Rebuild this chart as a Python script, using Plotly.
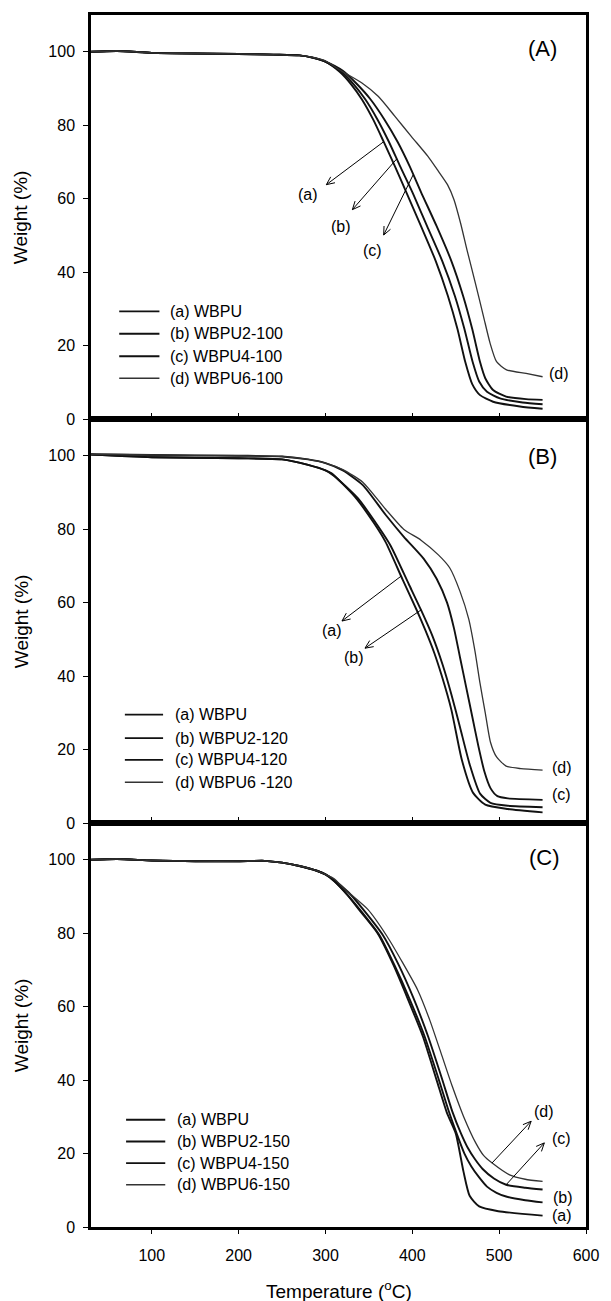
import math
import plotly.graph_objects as go
from plotly.subplots import make_subplots

# ---------------- data (Temperature in degC, Weight in %) ----------------
# Panel A
A_a_T = [30, 60, 100, 150, 200, 240, 270, 285, 300, 316, 330, 342, 355, 367, 380, 393, 410, 427, 441, 452, 461, 469, 478, 493, 524, 550]
A_a_W = [100, 100.2, 99.7, 99.5, 99.4, 99.2, 99.0, 98.4, 97.3, 94.6, 91.0, 87.0, 81.5, 75.5, 68.8, 61.8, 52.5, 43.0, 33.5, 24.5, 15.5, 9.5, 6.5, 4.7, 3.4, 2.8]
A_b_T = [30, 60, 100, 150, 200, 240, 270, 285, 300, 318, 333, 346, 360, 373, 386, 400, 417, 434.5, 449, 460, 469.5, 477, 486, 501, 527, 550]
A_b_W = [100, 100.2, 99.7, 99.5, 99.4, 99.2, 99.0, 98.4, 97.3, 94.6, 91.0, 87.0, 81.5, 75.5, 68.8, 61.8, 52.5, 43.0, 33.5, 24.5, 15.5, 10.2, 7.4, 5.6, 4.5, 4.0]
A_c_T = [30, 60, 100, 150, 200, 240, 270, 285, 300, 320, 337, 352, 368, 383, 397, 410, 428, 445, 458.5, 469, 478, 484, 493, 508, 531, 550]
A_c_W = [100, 100.2, 99.7, 99.5, 99.4, 99.2, 99.0, 98.4, 97.3, 94.8, 91.0, 87.0, 81.5, 75.5, 68.8, 61.8, 52.5, 43.0, 33.5, 24.5, 15.5, 11.1, 7.9, 6.1, 5.4, 5.2]
A_d_T = [30, 60, 100, 150, 200, 240, 270, 285, 300, 316, 342, 361, 380, 399, 418, 429, 440.5, 448, 455.6, 463, 472.6, 482, 489.6, 497, 508.5, 531, 550]
A_d_W = [100, 100.2, 99.7, 99.5, 99.4, 99.2, 99.0, 98.5, 97.5, 95.1, 91.5, 87.8, 82.4, 76.9, 71.5, 67.8, 63.8, 59.7, 53.3, 46.0, 37.0, 27.9, 20.6, 15.6, 13.4, 12.4, 11.5]

# Panel B
B_a_T = [30, 100, 200, 250, 280, 300, 307, 334, 356, 369, 389, 405, 415, 425, 434, 445, 457, 470, 484, 510, 550]
B_a_W = [100.3, 99.6, 99.3, 99.0, 97.5, 96.0, 95.2, 88.8, 81.6, 76.6, 66.2, 58.0, 52.5, 46.5, 40.0, 30.8, 17.2, 8.2, 5.0, 3.8, 2.9]
B_b_T = [30, 100, 200, 250, 280, 300, 310, 337, 360, 375, 396, 410, 423, 435, 445, 455, 466, 478, 490, 510, 550]
B_b_W = [100.3, 99.6, 99.3, 99.0, 97.5, 96.0, 94.5, 88.5, 81.0, 75.5, 65.0, 58.0, 51.0, 43.0, 35.0, 26.0, 16.0, 8.0, 5.5, 4.7, 4.3]
B_c_T = [30, 100, 200, 250, 280, 300, 320, 343, 369, 390, 413, 428, 440, 448, 455, 462, 469, 476, 483, 490, 498, 510, 550]
B_c_W = [100.4, 100.2, 100.0, 99.8, 99.0, 98.0, 96.0, 92.0, 84.0, 78.0, 72.0, 66.5, 60.0, 53.0, 45.0, 37.0, 29.0, 21.0, 14.0, 9.5, 7.3, 6.7, 6.3]
B_d_T = [30, 100, 200, 250, 280, 300, 320, 343, 369, 390, 410, 430, 443, 455, 465, 472, 478, 484, 490, 497, 508, 525, 550]
B_d_W = [100.4, 100.2, 100.0, 99.8, 99.0, 98.0, 96.2, 92.8, 85.5, 80.0, 77.0, 73.0, 69.5, 63.0, 55.5, 47.0, 38.0, 30.0, 22.0, 18.0, 15.5, 14.8, 14.4]

# Panel C
C_a_T = [30, 60, 100, 150, 200, 230, 250, 270, 290, 300, 310, 325, 340, 360, 378, 395, 412, 428, 440, 450, 459, 466, 477, 499, 550]
C_a_W = [100.0, 100.2, 99.8, 99.6, 99.6, 99.7, 99.2, 98.3, 97.0, 96.0, 94.2, 90.5, 86.0, 80.0, 71.5, 62.0, 52.0, 40.0, 31.0, 25.5, 15.0, 8.5, 5.6, 4.3, 3.1]
C_b_T = [30, 60, 100, 150, 200, 230, 250, 270, 290, 300, 310, 325, 341, 362, 380, 397, 414, 430, 442, 451, 460, 468, 477, 486, 497, 508, 530, 550]
C_b_W = [100.0, 100.2, 99.8, 99.6, 99.6, 99.7, 99.2, 98.3, 97.0, 96.0, 94.2, 90.5, 86.0, 79.5, 71.0, 62.0, 52.0, 40.5, 31.5, 25.5, 20.0, 16.5, 13.5, 11.0, 9.3, 8.3, 7.3, 6.7]
C_c_T = [30, 60, 100, 150, 200, 230, 250, 270, 290, 300, 310, 327, 345, 366, 384, 401, 418, 434, 446, 456, 464, 472, 481, 494, 508, 530, 550]
C_c_W = [100.0, 100.2, 99.8, 99.6, 99.6, 99.7, 99.2, 98.3, 97.0, 96.0, 94.5, 91.0, 86.0, 79.5, 71.5, 62.5, 52.0, 40.5, 31.5, 25.5, 21.5, 18.5, 15.8, 13.2, 11.5, 10.7, 10.2]
C_d_T = [30, 60, 100, 150, 200, 230, 250, 270, 290, 300, 310, 322, 349, 371, 389, 406, 420, 433, 446, 459, 473, 482, 492, 512, 530, 550]
C_d_W = [100.0, 100.2, 99.8, 99.6, 99.6, 99.7, 99.2, 98.3, 97.0, 96.0, 94.8, 92.0, 86.4, 79.1, 71.9, 64.6, 56.4, 47.4, 38.3, 30.1, 22.9, 19.5, 17.4, 14.2, 13.0, 12.4]

# legend texts
A_names = ["(a) WBPU", "(b) WBPU2-100", "(c) WBPU4-100", "(d) WBPU6-100"]
B_names = ["(a) WBPU", "(b) WBPU2-120", "(c) WBPU4-120", "(d) WBPU6 -120"]
C_names = ["(a) WBPU", "(b) WBPU2-150", "(c) WBPU4-150", "(d) WBPU6-150"]
panel_tags = ["(A)", "(B)", "(C)"]

# arrow annotations: (label, tail T, tail W, head T, head W)
A_arrows = [("(a)", 367, 75.5, 301, 63.8), ("(b)", 382, 70.8, 331, 57.0), ("(c)", 401, 66.5, 367, 50.1)]
A_arrow_labels = [("(a)", 280, 61.0), ("(b)", 318, 52.4), ("(c)", 354, 46.0), ("(d)", 569, 12.4)]
B_arrows = [("(a)", 387, 67.2, 319, 55.0), ("(b)", 410, 58.0, 345.5, 47.6)]
B_arrow_labels = [("(a)", 307, 52.5), ("(b)", 333, 45.0), ("(d)", 572, 15.0), ("(c)", 572, 7.7)]
C_arrows = [("(d)", 491.7, 17.4, 536.8, 28.8), ("(c)", 508, 11.5, 552, 22.9)]
C_arrow_labels = [("(d)", 552, 31.5), ("(c)", 572, 24.2), ("(b)", 574, 7.9), ("(a)", 572, 3.1)]

# ---------------- figure ----------------
FONT = "Liberation Sans, Arial, sans-serif"
W_PX, H_PX = 611, 1301
M_L, M_R, M_T, M_B = 91, 17, 15, 74
X_RANGE = [30, 600]
Y_RANGE = [0, 110]
SX = (W_PX - M_L - M_R) / (X_RANGE[1] - X_RANGE[0])          # px per degC
SY = ((H_PX - M_T - M_B) / 3) / (Y_RANGE[1] - Y_RANGE[0])    # px per %

fig = make_subplots(rows=3, cols=1, shared_xaxes=True, vertical_spacing=0)

panels = [
    (1, [(A_a_T, A_a_W), (A_b_T, A_b_W), (A_c_T, A_c_W), (A_d_T, A_d_W)], A_names, A_arrows, A_arrow_labels,
     (62.5, 108.8, 118.5, [29.3, 23.2, 17.1, 11.1]), (550, 101)),
    (2, [(B_a_T, B_a_W), (B_b_T, B_b_W), (B_c_T, B_c_W), (B_d_T, B_d_W)], B_names, B_arrows, B_arrow_labels,
     (69, 113, 124, [29.5, 23.1, 17.2, 11.1]), (550, 99.7)),
    (3, [(C_a_T, C_a_W), (C_b_T, C_b_W), (C_c_T, C_c_W), (C_d_T, C_d_W)], C_names, C_arrows, C_arrow_labels,
     (70.4, 115.5, 127, [29.2, 23.3, 17.4, 11.5]), (552, 100.5)),
]

widths = [1.9, 1.9, 1.9, 1.3]
colors = ["#111111", "#111111", "#111111", "#333333"]


def arrow_path(tt, tw, ht, hw, length=9.0, ang=24.0):
    dx, dy = (ht - tt) * SX, (hw - tw) * SY
    n = math.hypot(dx, dy)
    ux, uy = dx / n, dy / n
    xs, ys = [tt, ht, None], [tw, hw, None]
    for s in (1, -1):
        a = math.radians(ang) * s
        rx = ux * math.cos(a) - uy * math.sin(a)
        ry = ux * math.sin(a) + uy * math.cos(a)
        xs += [ht - length * rx / SX, ht, None]
        ys += [hw - length * ry / SY, hw, None]
    return xs, ys


for row, curves, names, arrows, alabels, leg, tagpos in panels:
    xr = "x" if row == 1 else f"x{row}"
    yr = "y" if row == 1 else f"y{row}"
    for i, (T, W) in enumerate(curves):
        fig.add_trace(go.Scatter(x=T, y=W, mode="lines", name=names[i], showlegend=False,
                                 line=dict(color=colors[i], width=widths[i], shape="spline", smoothing=0.6)),
                      row=row, col=1)
    x0, x1, xt, ys = leg
    for i, yy in enumerate(ys):
        fig.add_shape(type="line", xref=xr, yref=yr, x0=x0, x1=x1, y0=yy, y1=yy,
                      line=dict(color=colors[i], width=widths[i]))
        fig.add_annotation(xref=xr, yref=yr, x=xt, y=yy, text=names[i], showarrow=False,
                           xanchor="left", yanchor="middle", font=dict(size=16, family=FONT, color="black"))
    for lab, tt, tw, ht, hw in arrows:
        axs, ays = arrow_path(tt, tw, ht, hw)
        fig.add_trace(go.Scatter(x=axs, y=ays, mode="lines", showlegend=False, hoverinfo="skip",
                                 line=dict(color="black", width=1)), row=row, col=1)
    for lab, lt, lw in alabels:
        fig.add_annotation(xref=xr, yref=yr, x=lt, y=lw, text=lab, showarrow=False,
                           font=dict(size=16, family=FONT, color="black"))
    fig.add_annotation(xref=xr, yref=yr, x=tagpos[0], y=tagpos[1], text=panel_tags[row - 1], showarrow=False,
                       font=dict(size=22, family=FONT, color="black"))

for row in (1, 2, 3):
    fig.update_yaxes(range=Y_RANGE, tickvals=[0, 20, 40, 60, 80, 100], ticks="outside", ticklen=5,
                     tickwidth=1, tickcolor="black", showline=True, mirror=True, linewidth=2.5,
                     linecolor="black", showgrid=False, zeroline=False, ticklabelstandoff=5,
                     tickfont=dict(size=16, family=FONT, color="black"), row=row, col=1)
for row in (1, 2):
    fig.update_xaxes(range=X_RANGE, tickvals=[100, 200, 300, 400, 500], ticks="inside", ticklen=6,
                     tickwidth=1, tickcolor="black", showticklabels=False, showline=True, mirror=True,
                     linewidth=2.5, linecolor="black", showgrid=False, zeroline=False, row=row, col=1)
fig.update_xaxes(range=X_RANGE, tickvals=[100, 200, 300, 400, 500, 600], ticks="outside", ticklen=4,
                 tickwidth=1, tickcolor="black", showticklabels=True, showline=True, mirror=True,
                 linewidth=2.5, linecolor="black", showgrid=False, zeroline=False, ticklabelstandoff=8,
                 tickfont=dict(size=16, family=FONT, color="black"), row=3, col=1)

# axis titles
for yc in (5 / 6, 0.5, 1 / 6):
    fig.add_annotation(xref="paper", yref="paper", x=-0.141, y=yc, text="Weight (%)", textangle=-90,
                       showarrow=False, xanchor="center", yanchor="middle",
                       font=dict(size=19, family=FONT, color="black"))
fig.add_annotation(xref="paper", yref="paper", x=0.5, y=-0.052, text="Temperature (<sup>o</sup>C)",
                   showarrow=False, xanchor="center", yanchor="middle",
                   font=dict(size=19, family=FONT, color="black"))

fig.update_layout(width=W_PX, height=H_PX, margin=dict(l=M_L, r=M_R, t=M_T, b=M_B),
                  paper_bgcolor="white", plot_bgcolor="white", showlegend=False,
                  font=dict(family=FONT, color="black"))

fig.write_html("out.html")
